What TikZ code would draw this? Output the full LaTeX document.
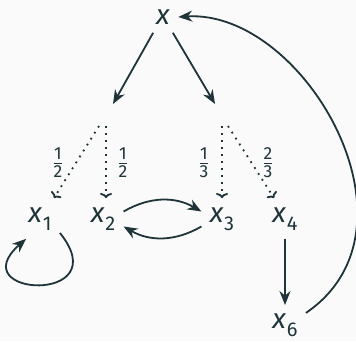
\documentclass[tikz,border=0pt]{standalone}
\usepackage{amsmath}
\usepackage{fontspec}
\setmainfont{Fira Sans}
\usetikzlibrary{arrows.meta, positioning, calc}
\definecolor{ink}{RGB}{30,52,56}
\definecolor{paper}{RGB}{250,250,250}
\newcommand{\xsub}[1]{\textit{x}\kern0.3pt\raisebox{-0.55ex}{\fontsize{10}{11}\selectfont #1}}

\begin{document}
\begin{tikzpicture}[
    x=0.5pt, y=-0.5pt,
    state/.style={inner sep=4pt, text=ink, font=\fontsize{14}{16}\selectfont},
    weight/.style={text=ink, font=\fontsize{12.5}{14}\selectfont},
    arrow/.style={-{Stealth[length=7pt, width=5.5pt]}, line width=0.9pt, draw=ink},
    choice/.style={-{To[length=2.5pt, width=6pt]}, line width=0.9pt, dash pattern=on 0.9pt off 2.6pt, draw=ink}
  ]
    \fill[paper] (0,0) rectangle (356,341);
    \useasboundingbox (0,0) rectangle (356,341);

    % States
    \node[state] (x) at (163,17) {\textit{x}};
    \node[state] (x1) at (40,219) {\xsub{1}};
    \node[state] (x2) at (103,219) {\xsub{2}};
    \node[state] (x3) at (222,219) {\xsub{3}};
    \node[state] (x4) at (285,219) {\xsub{4}};
    \node[state] (x6) at (285,325) {\xsub{6}};

    % Branch points
    \coordinate (lt) at (113,104);
    \coordinate (rt) at (215,104);
    \coordinate (la) at (99,126);
    \coordinate (lb) at (106,126);
    \coordinate (ra) at (222,126);
    \coordinate (rb) at (228,126);
    \coordinate (la') at (54,198);
    \coordinate (lb') at (106,198);
    \coordinate (ra') at (222,198);
    \coordinate (rb') at (274,198);

    % Connections
    \draw[arrow] (x.-122) -- (lt);
    \draw[arrow] (x.-58) -- (rt);
    \draw[choice] (la) -- (la');
    \draw[choice] (lb) -- (lb');
    \draw[choice] (ra) -- (ra');
    \draw[choice] (rb) -- (rb');

    % Weights
    \node[weight] (w1) at (58,163) {$\frac{\text{1}}{\text{2}}$};
    \node[weight] (w2) at (123,163) {$\frac{\text{1}}{\text{2}}$};
    \node[weight] (w3) at (204,163) {$\frac{\text{1}}{\text{3}}$};
    \node[weight] (w4) at (268,163) {$\frac{\text{2}}{\text{3}}$};

    % Transitions
    \draw[arrow] (x2.20) to[bend left=30] (x3.160);
    \draw[arrow] (x3.-160) to[bend left=30] (x2.-20);
    \draw[arrow] (x1.-35) .. controls +(58,72) and +(-66,58) .. (x1.-125);
    \draw[arrow] (x4) -- (x6);
    \draw[arrow] (x6.30) .. controls +(125,-85) and +(125,-8) .. (x.east);
\end{tikzpicture}
\end{document}
